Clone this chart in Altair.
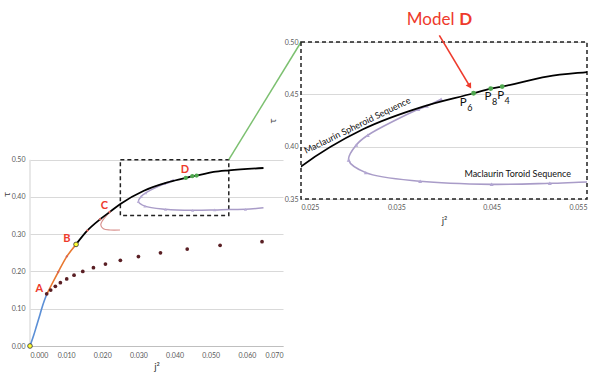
import altair as alt
import pandas as pd

# ---------------- data ----------------
# Maclaurin spheroid sequence, split in three coloured segments
blue_x = [0.0, 0.0010, 0.00185, 0.0026, 0.00323, 0.0039, 0.00462]
blue_y = [0.0, 0.028, 0.055, 0.079, 0.100, 0.120, 0.1385]
orange_x = [0.00462, 0.0060, 0.0078, 0.0102, 0.01274]
orange_y = [0.1385, 0.165, 0.1985, 0.2404, 0.2726]
black_x = [0.01274, 0.0159, 0.0194, 0.0222, 0.025, 0.0315, 0.0378, 0.0431,
           0.0449, 0.0461, 0.0508, 0.055, 0.0646]
black_y = [0.2726, 0.310, 0.340, 0.3605, 0.381, 0.4166, 0.4383, 0.451,
           0.4555, 0.4574, 0.467, 0.4713, 0.4776]
# branch at C
pink_x = [0.0222, 0.0201, 0.01958, 0.0203, 0.0222, 0.0249]
pink_y = [0.3605, 0.337, 0.3255, 0.3147, 0.3112, 0.3112]
# markers of the C sequence on the spheroid curve
redm_x = [0.0078, 0.0102, 0.0159, 0.0194, 0.0220]
redm_y = [0.1985, 0.2404, 0.310, 0.340, 0.3595]
# Maclaurin toroid sequence
tor_x = [0.0397, 0.0382, 0.0373, 0.0320, 0.0308, 0.0300, 0.0318, 0.0375,
         0.0450, 0.0511, 0.0550, 0.0596, 0.0646]
tor_y = [0.4453, 0.4388, 0.4357, 0.4109, 0.4016, 0.3873, 0.3752, 0.3669,
         0.3640, 0.3650, 0.3662, 0.3666, 0.3710]
torm_x = [0.0397, 0.0382, 0.0373, 0.0320, 0.0308, 0.0300, 0.0318, 0.0375,
          0.0450, 0.0511, 0.0596]
torm_y = [0.4453, 0.4388, 0.4357, 0.4109, 0.4016, 0.3873, 0.3752, 0.3669,
          0.3640, 0.3650, 0.3666]
# dotted sequence
dots_x = [0.00462, 0.00573, 0.00702, 0.0084, 0.01016, 0.01219, 0.0146, 0.01755,
          0.02087, 0.0250, 0.0300, 0.0361, 0.0435, 0.0526, 0.0642]
dots_y = [0.14, 0.15, 0.16, 0.17, 0.18, 0.19, 0.20, 0.21,
          0.22, 0.23, 0.24, 0.25, 0.26, 0.27, 0.28]
yellow_x = [0.0, 0.01274]
yellow_y = [0.0, 0.2726]
green_x = [0.0431, 0.0449, 0.0461]
green_y = [0.451, 0.4555, 0.4574]
p_letter = ["P", "P", "P"]
p_sub = ["6", "8", "4"]
p_x = [0.04202, 0.04462, 0.04595]
p_y = [0.4414, 0.4478, 0.4484]
abcd_labels = ["A", "B", "C", "D"]
abcd_x = [0.0026, 0.0102, 0.0206, 0.0429]
abcd_y = [0.154, 0.286, 0.376, 0.471]
zoom_box = {"x": [0.025], "x2": [0.055], "y": [0.35], "y2": [0.50]}
# connector from the zoom box corner towards the enlarged panel corner
conn_x = [0.055, 0.0750]
conn_y = [0.50, 0.8157]
arrow_x = [0.03951, 0.04265]
arrow_y = [0.5064, 0.4586]

left_xticks = [0.0, 0.01, 0.02, 0.03, 0.04, 0.05, 0.06, 0.07]
left_yticks = [0.0, 0.1, 0.2, 0.3, 0.4, 0.5]
right_xticks = [0.025, 0.035, 0.045, 0.055]
right_yticks = [0.35, 0.40, 0.45, 0.50]

FONT = "Lato"
RED = "#ee3a2c"


def df(x, y, **extra):
    d = pd.DataFrame({"x": x, "y": y})
    d["i"] = range(len(d))
    for k, v in extra.items():
        d[k] = v
    return d


# ---------------- left panel ----------------
xL = alt.X("x:Q", scale=alt.Scale(domain=[0, 0.07], nice=False, zero=False),
           axis=alt.Axis(values=left_xticks, format=".3f", title="j²", grid=False,
                         domain=True, domainColor="#bfbfbf", ticks=False,
                         labelPadding=5, titlePadding=3))
yL = alt.Y("y:Q", scale=alt.Scale(domain=[0, 0.8157], nice=False, zero=False),
           axis=alt.Axis(values=left_yticks, format=".2f", title="τ", grid=True,
                         domain=False, ticks=False, labelPadding=5, titlePadding=0))


def line(d, color, width=1.6, interp="monotone", clip=False):
    return alt.Chart(d).mark_line(color=color, strokeWidth=width, interpolate=interp,
                                  clip=clip).encode(x=xL, y=yL, order="i:Q")


left_axis_line = alt.Chart(pd.DataFrame({"x": [0.0], "y": [0.0], "y2": [0.5]})).mark_rule(
    color="#d9d9d9", strokeWidth=1.2).encode(x=xL, y=yL, y2="y2:Q")

left_layers = [
    left_axis_line,
    alt.Chart(pd.DataFrame(zoom_box)).mark_rect(fillOpacity=0, stroke="#222222",
                                               strokeDash=[4, 3], strokeWidth=1.5)
    .encode(x=xL, x2="x2:Q", y=yL, y2="y2:Q"),
    alt.Chart(df(conn_x, conn_y)).mark_line(color="#7cc070", strokeWidth=1.5, clip=False)
    .encode(x=xL, y=yL, order="i:Q"),
    line(df(tor_x, tor_y), "#a99cc8", 1.5, "catmull-rom"),
    alt.Chart(df(torm_x, torm_y)).mark_point(shape="triangle-up", filled=True, size=10,
                                            color="#b8acd6", opacity=1).encode(x=xL, y=yL),
    line(df(pink_x, pink_y), "#d9918e", 1.2, "catmull-rom"),
    line(df(blue_x, blue_y), "#5b8fd6"),
    line(df(orange_x, orange_y), "#e8782f"),
    line(df(black_x, black_y), "#000000", 1.8),
    alt.Chart(df(redm_x, redm_y)).mark_point(shape="diamond", filled=True, size=8,
                                            color="#d9625a", opacity=1).encode(x=xL, y=yL),
    alt.Chart(df(dots_x, dots_y)).mark_point(shape="circle", filled=True, size=14,
                                            color="#5a1f24", opacity=1).encode(x=xL, y=yL),
    alt.Chart(df(yellow_x, yellow_y)).mark_point(shape="circle", filled=True, size=22,
                                                fill="#ffff33", stroke="#333333",
                                                strokeWidth=0.8, opacity=1).encode(x=xL, y=yL),
    alt.Chart(df(green_x, green_y)).mark_point(shape="circle", filled=True, size=18,
                                              color="#4fa84f", opacity=1).encode(x=xL, y=yL),
    alt.Chart(df(abcd_x, abcd_y, t=abcd_labels)).mark_text(
        font=FONT, fontSize=11, fontWeight="bold", color=RED).encode(x=xL, y=yL, text="t:N"),
]
left = alt.layer(*left_layers).properties(width=253, height=304)

# ---------------- right panel ----------------
xR = alt.X("x:Q", scale=alt.Scale(domain=[0.025, 0.055], nice=False, zero=False),
           axis=alt.Axis(values=right_xticks, format=".3f", title="j²", grid=False,
                         domain=False, ticks=False, labelPadding=4, titlePadding=5))
yR = alt.Y("y:Q", scale=alt.Scale(domain=[0.35, 0.50], nice=False, zero=False),
           axis=alt.Axis(values=right_yticks, format=".2f", title="τ", grid=True,
                         domain=False, ticks=False, labelPadding=3, titlePadding=7))


def rline(d, color, width=1.6, interp="monotone"):
    return alt.Chart(d).mark_line(color=color, strokeWidth=width, interpolate=interp,
                                  clip=True).encode(x=xR, y=yR, order="i:Q")


right_layers = [
    alt.Chart(pd.DataFrame(zoom_box)).mark_rect(fillOpacity=0, stroke="#222222",
                                               strokeDash=[4, 3], strokeWidth=1.5)
    .encode(x=xR, x2="x2:Q", y=yR, y2="y2:Q"),
    rline(df(tor_x, tor_y), "#a99cc8", 1.6, "catmull-rom"),
    alt.Chart(df(torm_x, torm_y)).mark_point(shape="triangle-up", filled=True, size=16,
                                            color="#b3a7d3", opacity=1, clip=True)
    .encode(x=xR, y=yR),
    rline(df(black_x, black_y), "#000000", 1.7),
    alt.Chart(df(green_x, green_y)).mark_point(shape="circle", filled=True, size=24,
                                              color="#4fa84f", opacity=1).encode(x=xR, y=yR),
    alt.Chart(df(p_x, p_y, t=p_letter)).mark_text(font=FONT, fontSize=11.5, color="#111111")
    .encode(x=xR, y=yR, text="t:N"),
    alt.Chart(df(p_x, p_y, t=p_sub)).mark_text(font=FONT, fontSize=9, color="#111111",
                                               dx=6.5, dy=5)
    .encode(x=xR, y=yR, text="t:N"),
    alt.Chart(df([0.0309], [0.4203], t=["Maclaurin Spheroid  Sequence"])).mark_text(
        font=FONT, fontSize=9, angle=334, color="#111111").encode(x=xR, y=yR, text="t:N"),
    alt.Chart(df([0.04773], [0.3743], t=["Maclaurin Toroid Sequence"])).mark_text(
        font=FONT, fontSize=9, color="#111111").encode(x=xR, y=yR, text="t:N"),
    alt.Chart(df(arrow_x, arrow_y)).mark_line(color=RED, strokeWidth=1.6, clip=False)
    .encode(x=xR, y=yR, order="i:Q"),
    alt.Chart(df(arrow_x[1:], arrow_y[1:])).mark_point(shape="triangle", filled=True, size=40,
                                                       angle=149, color=RED, opacity=1,
                                                       clip=False).encode(x=xR, y=yR),
    alt.Chart(df([0.03609], [0.5162], t=["Model"])).mark_text(
        font=FONT, fontSize=17, color=RED, align="left", baseline="alphabetic", clip=False)
    .encode(x=xR, y=yR, text="t:N"),
    alt.Chart(df([0.04160], [0.5162], t=["D"])).mark_text(
        font=FONT, fontSize=17, fontWeight="bold", color=RED, align="left",
        baseline="alphabetic", clip=False).encode(x=xR, y=yR, text="t:N"),
]
right = alt.layer(*right_layers).properties(width=286, height=157)

chart = (
    alt.hconcat(left, right, spacing=18, bounds="flush")
    .properties(padding={"left": 1, "top": 11, "right": 5, "bottom": 5})
    .configure_view(strokeOpacity=0)
    .configure_axis(labelFont=FONT, labelFontSize=7, labelColor="#595959",
                    titleFont=FONT, titleFontSize=10, titleFontWeight="normal",
                    titleColor="#404040", gridColor="#d9d9d9", gridWidth=1)
)

chart.save("out.html", embed_options={"renderer": "svg", "actions": False})
